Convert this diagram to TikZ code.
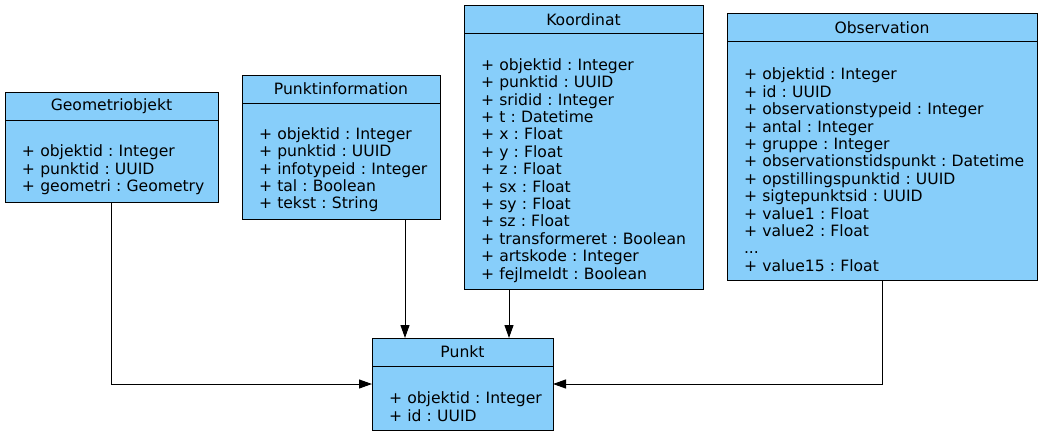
\documentclass[tikz,border=0pt]{standalone}
\usepackage{fontspec}
\setmainfont{DejaVu Sans}
\usepackage{xcolor}
\usetikzlibrary{arrows.meta, positioning, calc}
\definecolor{classcolor}{RGB}{135,206,250}
\frenchspacing

\begin{document}
\begin{tikzpicture}[
    x=1pt, y=1pt,
    classhead/.style={draw, fill=classcolor, line width=1pt, outer sep=0pt, anchor=north west, minimum height=28pt, inner sep=0pt, font=\fontsize{15.6}{17.4}\selectfont},
    classbody/.style={draw, fill=classcolor, line width=1pt, outer sep=0pt, anchor=north west, align=left, inner xsep=0pt, inner ysep=0pt, font=\fontsize{15.6}{17.4}\selectfont\frenchspacing, execute at begin node={\leftskip=17pt}, execute at end node={\leftskip=17pt\endgraf}},
    assoc/.style={-{Triangle[length=13pt, width=9pt]}, line width=1pt}
]
    \useasboundingbox (0,0) rectangle (1043,-436);

    % Classes
    \node[classhead, minimum width=213pt] (geom) at (5,-92) {Geometriobjekt};
    \node[classbody, text width=213pt, minimum height=82pt] (geomattr) at (geom.south west)
        {\strut\\+ objektid : Integer\\+ punktid : UUID\\+ geometri : Geometry};

    \node[classhead, minimum width=198pt] (info) at (242,-75) {Punktinformation};
    \node[classbody, text width=198pt, minimum height=116pt] (infoattr) at (info.south west)
        {\strut\\+ objektid : Integer\\+ punktid : UUID\\+ infotypeid : Integer\\+ tal : Boolean\\+ tekst : String};

    \node[classhead, minimum width=239pt] (koord) at (464,-6) {Koordinat};
    \node[classbody, text width=239pt, minimum height=255pt] (koordattr) at (koord.south west)
        {\strut\\+ objektid : Integer\\+ punktid : UUID\\+ sridid : Integer\\+ t : Datetime\\+ x : Float\\+ y : Float\\+ z : Float\\+ sx : Float\\+ sy : Float\\+ sz : Float\\+ transformeret : Boolean\\+ artskode : Integer\\+ fejlmeldt : Boolean};

    \node[classhead, minimum width=310pt] (obs) at (727,-14) {Observation};
    \node[classbody, text width=310pt, minimum height=238pt] (obsattr) at (obs.south west)
        {\strut\\+ objektid : Integer\\+ id : UUID\\+ observationstypeid : Integer\\+ antal : Integer\\+ gruppe : Integer\\+ observationstidspunkt : Datetime\\+ opstillingspunktid : UUID\\+ sigtepunktsid : UUID\\+ value1 : Float\\+ value2 : Float\\...\\+ value15 : Float};

    \node[classhead, minimum width=181pt] (punkt) at (372,-338) {Punkt};
    \node[classbody, text width=181pt, minimum height=64pt] (punktattr) at (punkt.south west)
        {\strut\\+ objektid : Integer\\+ id : UUID};

    % Associations
    \draw[assoc] (geomattr.south) |- ([yshift=-18pt]punktattr.north west);
    \draw[assoc] ([xshift=64pt]infoattr.south) -- ([xshift=64pt]infoattr.south |- punkt.north);
    \draw[assoc] ([xshift=-74.5pt]koordattr.south) -- ([xshift=-74.5pt]koordattr.south |- punkt.north);
    \draw[assoc] (obsattr.south) |- ([yshift=-18pt]punktattr.north east);
\end{tikzpicture}
\end{document}
